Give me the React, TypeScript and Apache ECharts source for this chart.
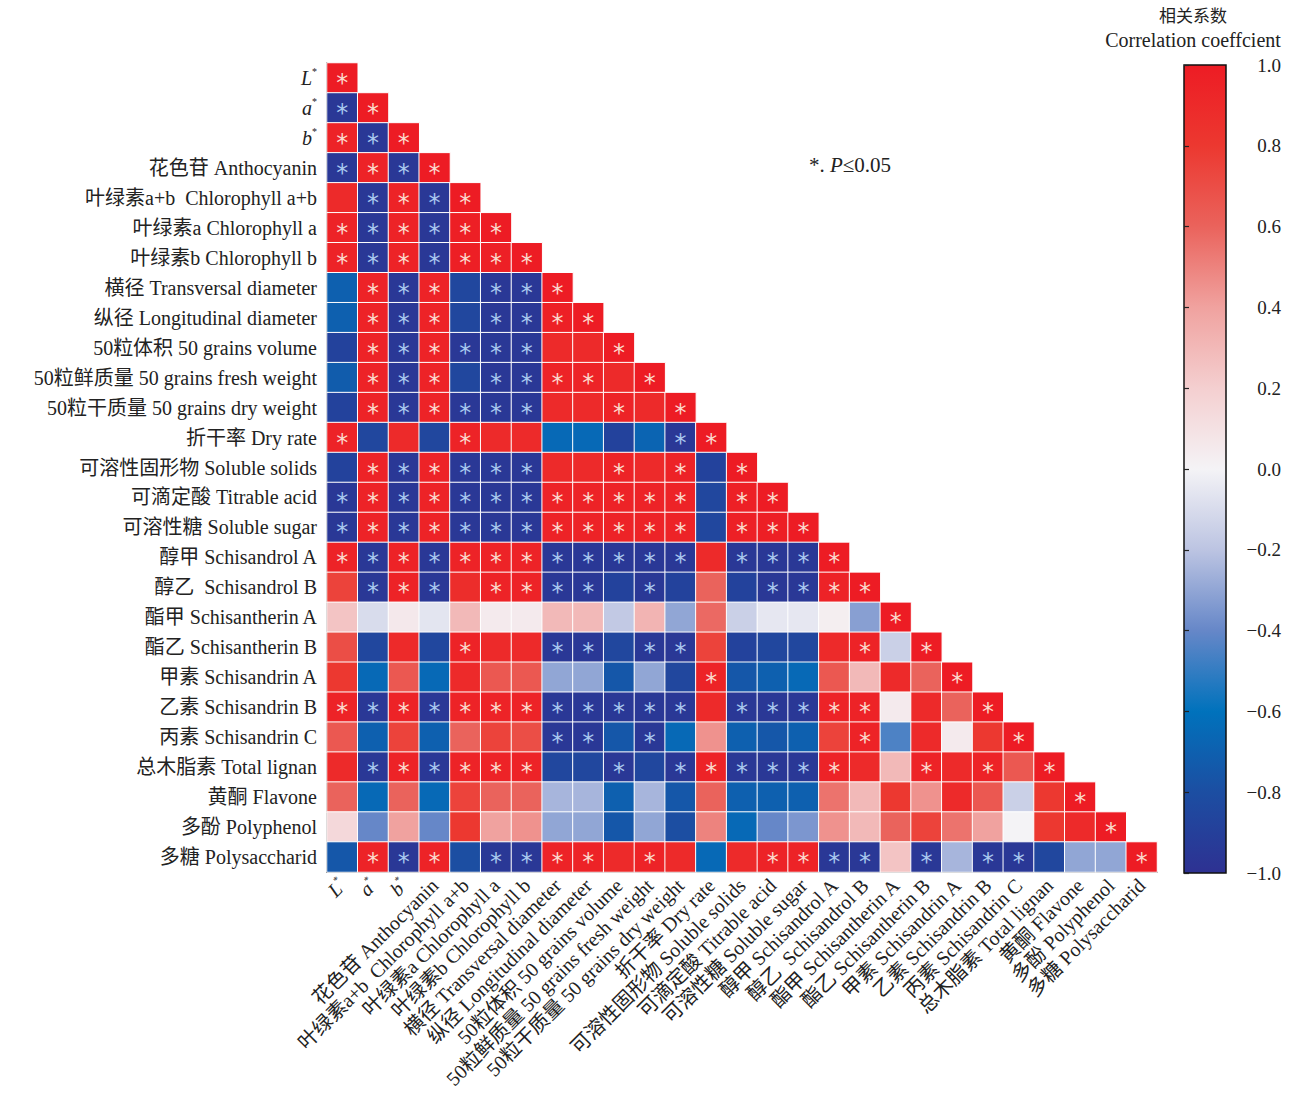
import React, { useEffect, useRef } from 'react';
import * as echarts from 'echarts';

const labels = [
  'L*', 'a*', 'b*',
  '花色苷 Anthocyanin',
  '叶绿素a+b  Chlorophyll a+b',
  '叶绿素a Chlorophyll a',
  '叶绿素b Chlorophyll b',
  '横径 Transversal diameter',
  '纵径 Longitudinal diameter',
  '50粒体积 50 grains volume',
  '50粒鲜质量 50 grains fresh weight',
  '50粒干质量 50 grains dry weight',
  '折干率 Dry rate',
  '可溶性固形物 Soluble solids',
  '可滴定酸 Titrable acid',
  '可溶性糖 Soluble sugar',
  '醇甲 Schisandrol A',
  '醇乙  Schisandrol B',
  '酯甲 Schisantherin A',
  '酯乙 Schisantherin B',
  '甲素 Schisandrin A',
  '乙素 Schisandrin B',
  '丙素 Schisandrin C',
  '总木脂素 Total lignan',
  '黄酮 Flavone',
  '多酚 Polyphenol',
  '多糖 Polysaccharid',
];

const corrRows: number[][] = [
  [1],
  [-0.95, 1],
  [0.95, -0.95, 1],
  [-0.95, 0.95, -0.95, 1],
  [0.9, -0.95, 0.95, -0.95, 1],
  [0.95, -0.95, 0.95, -0.95, 0.98, 1],
  [0.95, -0.95, 0.95, -0.95, 0.98, 0.97, 1],
  [-0.7, 0.95, -0.95, 0.95, -0.85, -0.95, -0.95, 1],
  [-0.7, 0.95, -0.95, 0.95, -0.85, -0.95, -0.95, 0.97, 1],
  [-0.88, 0.95, -0.95, 0.95, -0.95, -0.95, -0.95, 0.9, 0.9, 1],
  [-0.72, 0.95, -0.95, 0.95, -0.85, -0.95, -0.95, 0.95, 0.95, 0.9, 1],
  [-0.88, 0.95, -0.95, 0.95, -0.95, -0.95, -0.95, 0.9, 0.9, 0.95, 0.9, 1],
  [0.95, -0.85, 0.9, -0.85, 0.95, 0.9, 0.9, -0.65, -0.65, -0.88, -0.68, -0.95, 1],
  [-0.88, 0.95, -0.95, 0.95, -0.95, -0.95, -0.95, 0.9, 0.9, 0.95, 0.9, 0.95, -0.88, 1],
  [-0.95, 0.95, -0.95, 0.95, -0.95, -0.95, -0.95, 0.95, 0.95, 0.95, 0.95, 0.95, -0.85, 0.97, 1],
  [-0.95, 0.95, -0.95, 0.95, -0.95, -0.95, -0.95, 0.95, 0.95, 0.95, 0.95, 0.95, -0.85, 0.97, 0.98, 1],
  [0.95, -0.95, 0.95, -0.95, 0.95, 0.95, 0.95, -0.95, -0.95, -0.95, -0.95, -0.95, 0.9, -0.95, -0.95, -0.95, 1],
  [0.75, -0.95, 0.95, -0.95, 0.88, 0.95, 0.95, -0.95, -0.95, -0.88, -0.95, -0.88, 0.6, -0.88, -0.95, -0.95, 0.95, 1],
  [0.25, -0.1, 0.06, -0.06, 0.3, 0.05, 0.05, 0.3, 0.3, -0.18, 0.32, -0.3, 0.58, -0.15, -0.05, -0.05, 0.03, -0.32, 1],
  [0.7, -0.85, 0.9, -0.85, 0.95, 0.9, 0.9, -0.95, -0.95, -0.85, -0.95, -0.95, 0.75, -0.88, -0.85, -0.85, 0.9, 0.95, -0.15, 1],
  [0.8, -0.65, 0.65, -0.65, 0.9, 0.65, 0.65, -0.3, -0.3, -0.75, -0.3, -0.85, 0.95, -0.75, -0.7, -0.65, 0.65, 0.3, 0.9, 0.6, 1],
  [0.95, -0.95, 0.95, -0.95, 0.95, 0.95, 0.95, -0.95, -0.95, -0.95, -0.95, -0.95, 0.9, -0.95, -0.95, -0.95, 0.95, 0.95, 0.05, 0.9, 0.6, 1],
  [0.65, -0.7, 0.75, -0.7, 0.6, 0.75, 0.7, -0.95, -0.95, -0.75, -0.95, -0.65, 0.45, -0.7, -0.75, -0.7, 0.75, 0.95, -0.45, 0.9, 0.05, 0.8, 1],
  [0.9, -0.95, 0.95, -0.95, 0.95, 0.95, 0.95, -0.85, -0.85, -0.95, -0.85, -0.95, 0.95, -0.95, -0.95, -0.95, 0.95, 0.9, 0.3, 0.95, 0.9, 0.95, 0.65, 1],
  [0.6, -0.65, 0.6, -0.65, 0.75, 0.6, 0.6, -0.25, -0.25, -0.7, -0.25, -0.75, 0.6, -0.7, -0.7, -0.7, 0.55, 0.3, 0.8, 0.45, 0.9, 0.65, -0.15, 0.8, 1],
  [0.15, -0.4, 0.4, -0.4, 0.8, 0.4, 0.45, -0.3, -0.3, -0.75, -0.3, -0.8, 0.5, -0.65, -0.4, -0.35, 0.45, 0.3, 0.6, 0.75, 0.55, 0.4, 0.0, 0.8, 0.9, 1],
  [-0.75, 0.95, -0.95, 0.95, -0.8, -0.95, -0.95, 0.95, 0.95, 0.9, 0.95, 0.9, -0.65, 0.9, 0.95, 0.95, -0.95, -0.95, 0.25, -0.95, -0.25, -0.95, -0.95, -0.85, -0.3, -0.3, 1],
];

const sigRows: number[][] = [
  [1],
  [1, 1],
  [1, 1, 1],
  [1, 1, 1, 1],
  [0, 1, 1, 1, 1],
  [1, 1, 1, 1, 1, 1],
  [1, 1, 1, 1, 1, 1, 1],
  [0, 1, 1, 1, 0, 1, 1, 1],
  [0, 1, 1, 1, 0, 1, 1, 1, 1],
  [0, 1, 1, 1, 1, 1, 1, 0, 0, 1],
  [0, 1, 1, 1, 0, 1, 1, 1, 1, 0, 1],
  [0, 1, 1, 1, 1, 1, 1, 0, 0, 1, 0, 1],
  [1, 0, 0, 0, 1, 0, 0, 0, 0, 0, 0, 1, 1],
  [0, 1, 1, 1, 1, 1, 1, 0, 0, 1, 0, 1, 0, 1],
  [1, 1, 1, 1, 1, 1, 1, 1, 1, 1, 1, 1, 0, 1, 1],
  [1, 1, 1, 1, 1, 1, 1, 1, 1, 1, 1, 1, 0, 1, 1, 1],
  [1, 1, 1, 1, 1, 1, 1, 1, 1, 1, 1, 1, 0, 1, 1, 1, 1],
  [0, 1, 1, 1, 0, 1, 1, 1, 1, 0, 1, 0, 0, 0, 1, 1, 1, 1],
  [0, 0, 0, 0, 0, 0, 0, 0, 0, 0, 0, 0, 0, 0, 0, 0, 0, 0, 1],
  [0, 0, 0, 0, 1, 0, 0, 1, 1, 0, 1, 1, 0, 0, 0, 0, 0, 1, 0, 1],
  [0, 0, 0, 0, 0, 0, 0, 0, 0, 0, 0, 0, 1, 0, 0, 0, 0, 0, 0, 0, 1],
  [1, 1, 1, 1, 1, 1, 1, 1, 1, 1, 1, 1, 0, 1, 1, 1, 1, 1, 0, 0, 0, 1],
  [0, 0, 0, 0, 0, 0, 0, 1, 1, 0, 1, 0, 0, 0, 0, 0, 0, 1, 0, 0, 0, 0, 1],
  [0, 1, 1, 1, 1, 1, 1, 0, 0, 1, 0, 1, 1, 1, 1, 1, 1, 0, 0, 1, 0, 1, 0, 1],
  [0, 0, 0, 0, 0, 0, 0, 0, 0, 0, 0, 0, 0, 0, 0, 0, 0, 0, 0, 0, 0, 0, 0, 0, 1],
  [0, 0, 0, 0, 0, 0, 0, 0, 0, 0, 0, 0, 0, 0, 0, 0, 0, 0, 0, 0, 0, 0, 0, 0, 0, 1],
  [0, 1, 1, 1, 0, 1, 1, 1, 1, 0, 1, 0, 0, 0, 1, 1, 1, 1, 0, 1, 0, 1, 1, 0, 0, 0, 1],
];

// colour stops from -1 to 1
const colorStops = [
  '#2e3192', '#1c4ea2', '#0072bc', '#6687c8', '#bcc4e2', '#f4f3f6',
  '#f4cfd0', '#f0a29f', '#ea635c', '#ec3830', '#ed1c24',
];

const FONT = "'Liberation Serif', 'Noto Sans CJK SC', serif";
const LABEL_SIZE = 20;

function fmtLabel(v: string) {
  if (v.length === 2 && v[1] === '*') return '{i|' + v[0] + '}{s|*}';
  return v;
}

export default function App() {
  const ref = useRef<HTMLDivElement>(null);
  useEffect(() => {
    document.body.style.margin = '0';
    const chart = echarts.init(ref.current!, null, { renderer: 'svg' });
    const data: any[] = [];
    corrRows.forEach((row, i) =>
      row.forEach((v, j) => {
        const star = sigRows[i][j] === 1;
        data.push({
          value: [j, i, v],
          label: { show: star, color: v >= 0 ? '#fbd9cc' : '#a9c8ef' },
        });
      })
    );
    const rich = {
      i: { fontStyle: 'italic', fontFamily: FONT, fontSize: LABEL_SIZE, color: '#222', lineHeight: 22 },
      s: { fontFamily: FONT, fontSize: 10, color: '#222', verticalAlign: 'top', lineHeight: 10 },
    };
    const gradStops = colorStops
      .map((c, k) => ({ offset: 1 - k / (colorStops.length - 1), color: c }))
      .reverse();
    const option: any = {
      animation: false,
      backgroundColor: '#fff',
      grid: [
        { left: 327, top: 63, width: 830, height: 809 },
        { left: 1184, top: 65, width: 42, height: 808 },
      ],
      xAxis: [
        {
          type: 'category',
          data: labels,
          gridIndex: 0,
          axisLine: { show: true, lineStyle: { color: '#222', width: 1.5 } },
          axisTick: { show: false },
          splitLine: { show: false },
          axisLabel: {
            interval: 0,
            rotate: 45,
            margin: 10,
            fontSize: LABEL_SIZE,
            fontFamily: FONT,
            color: '#222',
            formatter: fmtLabel,
            rich,
          },
        },
        { type: 'value', gridIndex: 1, show: false, min: 0, max: 1 },
      ],
      yAxis: [
        {
          type: 'category',
          data: labels,
          inverse: true,
          gridIndex: 0,
          axisLine: { show: true, lineStyle: { color: '#222', width: 1.5 } },
          axisTick: { show: false },
          splitLine: { show: false },
          axisLabel: {
            interval: 0,
            margin: 10,
            fontSize: LABEL_SIZE,
            fontFamily: FONT,
            color: '#222',
            formatter: fmtLabel,
            rich,
          },
        },
        {
          type: 'value',
          gridIndex: 1,
          position: 'right',
          min: -1,
          max: 1,
          interval: 0.2,
          axisLine: { show: false },
          splitLine: { show: false },
          axisTick: { show: true, length: 5, lineStyle: { color: '#222', width: 1.2 } },
          axisLabel: {
            align: 'right',
            margin: 55,
            fontSize: 19,
            fontFamily: FONT,
            color: '#222',
            formatter: (v: number) => {
              const r = Math.round(v * 10) / 10;
              return r < 0 ? '\u2212' + Math.abs(r).toFixed(1) : r.toFixed(1);
            },
          },
        },
      ],
      visualMap: {
        show: false,
        min: -1,
        max: 1,
        dimension: 2,
        seriesIndex: 0,
        inRange: { color: colorStops },
      },
      graphic: [
        {
          type: 'rect',
          shape: { x: 1184, y: 65, width: 42, height: 808 },
          style: {
            fill: new echarts.graphic.LinearGradient(0, 0, 0, 1, gradStops),
            stroke: '#111',
            lineWidth: 1.5,
          },
          z: 0,
        },
        {
          type: 'text',
          x: 1193,
          y: 14,
          style: {
            text: '相关系数',
            font: "17px 'Noto Sans CJK SC'",
            fill: '#222',
            textAlign: 'center',
            textVerticalAlign: 'middle',
          },
        },
        {
          type: 'text',
          x: 1193,
          y: 40,
          style: {
            text: 'Correlation coeffcient',
            font: "20px 'Liberation Serif'",
            fill: '#222',
            textAlign: 'center',
            textVerticalAlign: 'middle',
          },
        },
        {
          type: 'text',
          x: 809,
          y: 154,
          style: {
            text: '{n|*. }{p|P}{n|≤0.05}',
            rich: {
              n: { fontFamily: FONT, fontSize: 21, fill: '#222' },
              p: { fontFamily: FONT, fontSize: 21, fontStyle: 'italic', fill: '#222' },
            },
          },
        },
      ],
      series: [
        {
          type: 'heatmap',
          xAxisIndex: 0,
          yAxisIndex: 0,
          data,
          itemStyle: { borderColor: '#ffffff', borderWidth: 1 },
          label: {
            show: false,
            formatter: () => '*',
            fontSize: 24,
            fontFamily: 'DejaVu Sans',
            offset: [0, 5],
          },
          emphasis: { disabled: true },
        },
      ],
    };
    chart.setOption(option);
    return () => chart.dispose();
  }, []);
  return <div ref={ref} style={{ width: 1298, height: 1101 }} />;
}
